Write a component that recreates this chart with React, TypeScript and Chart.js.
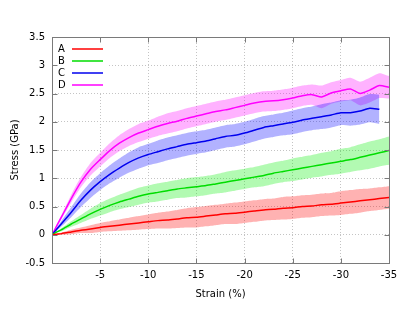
import React, { useEffect, useRef } from "react";
import { Chart, registerables } from "chart.js";

Chart.register(...registerables);

const strain = [0, -0.5, -1, -2, -3, -4, -5, -6, -7, -8, -9, -10, -11, -12, -13, -14, -15, -16, -17, -18, -19, -20, -21, -22, -23, -24, -25, -26, -27, -28, -29, -30, -31, -32, -33, -34, -35];

const seriesNames = ["A", "B", "C", "D"];

const meanA = [0, 0.01, 0.02, 0.05, 0.08, 0.1, 0.13, 0.15, 0.17, 0.19, 0.21, 0.23, 0.25, 0.26, 0.28, 0.3, 0.31, 0.33, 0.35, 0.37, 0.38, 0.4, 0.42, 0.44, 0.45, 0.47, 0.48, 0.5, 0.51, 0.53, 0.54, 0.56, 0.58, 0.6, 0.62, 0.64, 0.66];
const spreadA = [0, 0.01, 0.02, 0.04, 0.05, 0.07, 0.08, 0.09, 0.1, 0.11, 0.12, 0.13, 0.14, 0.15, 0.16, 0.17, 0.18, 0.18, 0.18, 0.18, 0.19, 0.19, 0.19, 0.19, 0.19, 0.2, 0.2, 0.2, 0.2, 0.2, 0.2, 0.21, 0.21, 0.21, 0.2, 0.2, 0.2];

const meanB = [0, 0.05, 0.09, 0.19, 0.28, 0.37, 0.45, 0.52, 0.58, 0.63, 0.68, 0.72, 0.75, 0.78, 0.81, 0.83, 0.85, 0.87, 0.9, 0.93, 0.96, 0.99, 1.02, 1.05, 1.09, 1.12, 1.15, 1.18, 1.21, 1.24, 1.27, 1.3, 1.33, 1.37, 1.41, 1.45, 1.49];
const spreadB = [0, 0.01, 0.03, 0.05, 0.07, 0.09, 0.11, 0.12, 0.13, 0.14, 0.15, 0.15, 0.16, 0.16, 0.16, 0.17, 0.17, 0.17, 0.17, 0.18, 0.18, 0.18, 0.18, 0.19, 0.19, 0.19, 0.2, 0.2, 0.2, 0.21, 0.21, 0.22, 0.22, 0.23, 0.24, 0.24, 0.25];

const meanC = [0, 0.1, 0.2, 0.4, 0.61, 0.79, 0.94, 1.07, 1.18, 1.28, 1.36, 1.42, 1.47, 1.52, 1.56, 1.6, 1.63, 1.66, 1.7, 1.74, 1.76, 1.8, 1.85, 1.9, 1.93, 1.96, 1.99, 2.03, 2.06, 2.09, 2.12, 2.16, 2.16, 2.19, 2.24, 2.22, null];
const spreadC = [0, 0.03, 0.05, 0.09, 0.12, 0.14, 0.15, 0.16, 0.17, 0.18, 0.19, 0.19, 0.2, 0.2, 0.2, 0.2, 0.2, 0.2, 0.2, 0.2, 0.2, 0.2, 0.2, 0.2, 0.2, 0.2, 0.21, 0.21, 0.21, 0.22, 0.22, 0.22, 0.23, 0.24, 0.25, 0.26, null];

const meanD = [0, 0.16, 0.32, 0.64, 0.93, 1.16, 1.33, 1.49, 1.62, 1.72, 1.8, 1.86, 1.92, 1.97, 2.01, 2.06, 2.1, 2.14, 2.18, 2.21, 2.25, 2.29, 2.33, 2.36, 2.37, 2.39, 2.42, 2.46, 2.48, 2.44, 2.51, 2.55, 2.58, 2.5, 2.56, 2.64, 2.61];
const spreadD = [0, 0.02, 0.04, 0.07, 0.09, 0.11, 0.12, 0.13, 0.14, 0.15, 0.16, 0.16, 0.17, 0.18, 0.18, 0.18, 0.18, 0.18, 0.18, 0.18, 0.18, 0.18, 0.18, 0.18, 0.18, 0.18, 0.18, 0.18, 0.18, 0.2, 0.19, 0.19, 0.2, 0.21, 0.22, 0.22, 0.2];

const xTicks = [0, -5, -10, -15, -20, -25, -30, -35];
const yTicks = [-0.5, 0, 0.5, 1, 1.5, 2, 2.5, 3, 3.5];

const lineColors = ["#ff0000", "#00dd00", "#0000ee", "#ff00ff"];
const bandColors = ["rgba(255,0,0,0.3)", "rgba(0,240,0,0.3)", "rgba(0,0,255,0.3)", "rgba(255,0,255,0.3)"];

const FONT = '"DejaVu Sans", sans-serif';

const frame = {
  id: "frame",
  beforeDatasetsDraw(chart: any) {
    const { ctx, chartArea: a } = chart;
    ctx.save();
    ctx.fillStyle = "#ffffff";
    ctx.fillRect(a.left + 1, a.top + 1, 56, 54);
    ctx.font = "10px " + FONT;
    ctx.textBaseline = "middle";
    ctx.textAlign = "left";
    seriesNames.forEach((n, i) => {
      const y = a.top + 12 + i * 12;
      ctx.fillStyle = "#000";
      ctx.fillText(n, a.left + 6, y);
      ctx.strokeStyle = lineColors[i];
      ctx.lineWidth = 1.5;
      ctx.beginPath();
      ctx.moveTo(a.left + 20, y);
      ctx.lineTo(a.left + 51, y);
      ctx.stroke();
    });
    ctx.restore();
  },
  afterDatasetsDraw(chart: any) {
    const { ctx, chartArea: a, scales } = chart;
    ctx.save();
    ctx.strokeStyle = "#7a7a7a";
    ctx.lineWidth = 1;
    const L = Math.round(a.left) + 0.5;
    const R = Math.round(a.right) + 0.5;
    const T = Math.round(a.top) + 0.5;
    const B = Math.round(a.bottom) + 0.5;
    ctx.strokeRect(L, T, R - L, B - T);
    ctx.beginPath();
    yTicks.forEach((v) => {
      const y = Math.round(scales.y.getPixelForValue(v)) + 0.5;
      ctx.moveTo(L, y);
      ctx.lineTo(L + 5, y);
      ctx.moveTo(R, y);
      ctx.lineTo(R - 5, y);
    });
    xTicks.forEach((v) => {
      const x = Math.round(scales.x.getPixelForValue(v)) + 0.5;
      ctx.moveTo(x, B);
      ctx.lineTo(x, B - 5);
      ctx.moveTo(x, T);
      ctx.lineTo(x, T + 5);
    });
    ctx.stroke();
    ctx.restore();
  },
};

export default function App() {
  const ref = useRef<HTMLCanvasElement>(null);
  useEffect(() => {
    const means = [meanA, meanB, meanC, meanD];
    const spreads = [spreadA, spreadB, spreadC, spreadD];
    const pts = (arr: (number | null)[]) => strain.map((x, i) => ({ x, y: arr[i] }));
    const lineSets = means.map((m, k) => ({
      label: seriesNames[k],
      data: pts(m),
      borderColor: lineColors[k],
      borderWidth: 1.5,
      pointRadius: 0,
      fill: false,
      tension: 0.2,
      order: 0,
    }));
    const bandSets: any[] = [];
    means.forEach((m, k) => {
      const s = spreads[k];
      const up = m.map((v, i) => (v === null || s[i] === null ? null : v + (s[i] as number)));
      const lo = m.map((v, i) => (v === null || s[i] === null ? null : v - (s[i] as number)));
      bandSets.push({
        label: seriesNames[k] + " upper",
        data: pts(up),
        borderWidth: 0,
        borderColor: "rgba(0,0,0,0)",
        backgroundColor: bandColors[k],
        pointRadius: 0,
        tension: 0.2,
        fill: "+1",
        order: 1,
      });
      bandSets.push({
        label: seriesNames[k] + " lower",
        data: pts(lo),
        borderWidth: 0,
        borderColor: "rgba(0,0,0,0)",
        pointRadius: 0,
        tension: 0.2,
        fill: false,
        order: 1,
      });
    });
    const chart = new Chart(ref.current as HTMLCanvasElement, {
      type: "line",
      data: { datasets: [...lineSets, ...bandSets] as any },
      options: {
        animation: false,
        responsive: false,
        events: [],
        layout: { padding: { top: 37, right: 26, left: 0, bottom: 0 } },
        plugins: { legend: { display: false }, tooltip: { enabled: false } },
        scales: {
          x: {
            type: "linear",
            reverse: true,
            min: -35,
            max: 0,
            afterFit: (s: any) => { s.height = 49; },
            afterBuildTicks: (s: any) => { s.ticks = xTicks.map((v) => ({ value: v })); },
            ticks: {
              padding: 6,
              color: "#000",
              font: { family: FONT, size: 10 },
              maxRotation: 0,
              callback: (v: any) => (v === 0 ? "" : String(v)),
            },
            grid: { color: "#c4c4c4", lineWidth: 1, drawTicks: false },
            border: { display: false, dash: [1, 2] },
            title: { display: true, text: "Strain (%)", color: "#000", font: { family: FONT, size: 10 }, padding: { top: 0, bottom: 12 } },
          },
          y: {
            type: "linear",
            min: -0.5,
            max: 3.5,
            afterFit: (s: any) => { s.width = 52; },
            afterBuildTicks: (s: any) => { s.ticks = yTicks.map((v) => ({ value: v })); },
            ticks: {
              padding: 7,
              color: "#000",
              font: { family: FONT, size: 10 },
              callback: (v: any) => String(v),
            },
            grid: { color: "#c4c4c4", lineWidth: 1, drawTicks: false },
            border: { display: false, dash: [1, 2] },
            title: { display: true, text: "Stress (GPa)", color: "#000", font: { family: FONT, size: 10 }, padding: { top: 9, bottom: 0 } },
          },
        },
      },
      plugins: [frame],
    });
    return () => chart.destroy();
  }, []);
  return (
    <div style={{ position: "absolute", left: 0, top: 0, width: 415, height: 312 }}>
      <canvas ref={ref} width={415} height={312} />
    </div>
  );
}
